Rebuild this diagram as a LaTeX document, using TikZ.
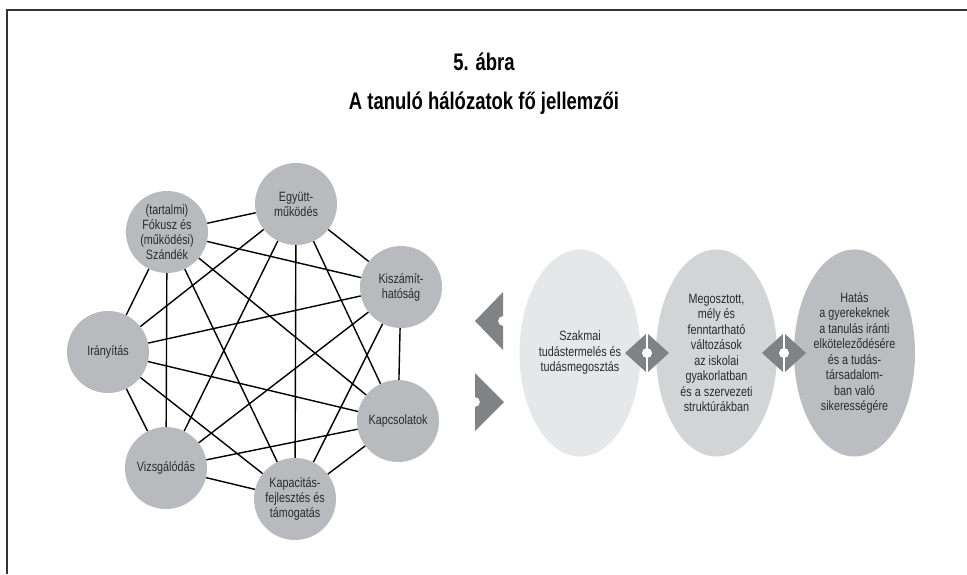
\documentclass[tikz,border=0pt]{standalone}
\usepackage{fontspec}
\setmainfont{Liberation Sans}[FakeStretch=0.8]
\newfontfamily\titlefont{Liberation Sans}[FakeStretch=0.77]
\usetikzlibrary{shapes.geometric}
\definecolor{circfill}{HTML}{B9BABD}
\definecolor{ellA}{HTML}{E6E7E8}
\definecolor{ellB}{HTML}{D3D4D6}
\definecolor{ellC}{HTML}{BCBDC0}
\definecolor{arrowgray}{HTML}{808285}
\definecolor{txtgray}{HTML}{2B2B2B}
\begin{document}
\begin{tikzpicture}[x=1pt,y=-1pt,
  circ/.style={circle,fill=circfill,minimum size=82pt,inner sep=0pt,align=center,
    text=txtgray,font=\fontsize{13.5}{15}\selectfont},
  ell/.style={ellipse,minimum width=121pt,minimum height=207pt,inner sep=0pt,align=center,
    text=txtgray,font=\fontsize{13.5}{15.5}\selectfont},
  link/.style={line width=1.4pt,black},
  titletext/.style={font=\titlefont\bfseries\fontsize{24}{28}\selectfont,text=black}]
\useasboundingbox (0,0) rectangle (967,574);
\fill[white] (0,0) rectangle (967,574);
% frame
\coordinate (fa) at (7,574);
\coordinate (fb) at (7,10);
\coordinate (fc) at (967,10);
\draw[line width=2pt,black!80] (fa) -- (fb) -- (fc);
% title
\node[titletext] (t1) at (484,62) {5. ábra};
\node[titletext] (t2) at (484,103) {A tanuló hálózatok fő jellemzői};
% network nodes
\node[circ] (n1) at (108,352) {Irányítás};
\node[circ] (n2) at (167,232) {(tartalmi)\\Fókusz és\\(működési)\\Szándék};
\node[circ] (n3) at (296,204) {Együtt-\\működés};
\node[circ] (n4) at (401,287) {Kiszámít-\\hatóság};
\node[circ] (n5) at (398,421) {Kapcsolatok};
\node[circ] (n6) at (295,499) {Kapacitás-\\fejlesztés és\\támogatás};
\node[circ] (n7) at (166,468) {Vizsgálódás};
\foreach \i in {1,...,7}{
  \foreach \j in {1,...,7}{
    \ifnum\i<\j
      \draw[link] (n\i) -- (n\j);
    \fi
  }
}
% left chevrons
\fill[arrowgray] (503,292) -- (475,321) -- (503,350) -- (503,326) arc (90:270:5) -- cycle;
\fill[arrowgray] (475,373) -- (504,402) -- (475,431) -- (475,407) arc (90:-90:5) -- cycle;
% ellipses
\node[ell,fill=ellA] (e1) at (580,353) {Szakmai\\tudástermelés és\\tudásmegosztás};
\node[ell,fill=ellB] (e2) at (716.5,353) {Megosztott,\\mély és\\fenntartható\\változások\\az iskolai\\gyakorlatban\\és a szervezeti\\struktúrákban};
\node[ell,fill=ellC] (e3) at (854.5,353) {Hatás\\a gyerekeknek\\a tanulás iránti\\elköteleződésére\\és a tudás-\\társadalom-\\ban való\\sikerességére};
% double arrows
\foreach \cx in {647,784}{
  \fill[arrowgray] (\cx-22,353) -- (\cx,333) -- (\cx+22,353) -- (\cx,373) -- cycle;
  \fill[white] (\cx-1.2,331) rectangle (\cx+1.2,375);
  \fill[white] (\cx,353) circle (5);
}
\end{tikzpicture}
\end{document}
